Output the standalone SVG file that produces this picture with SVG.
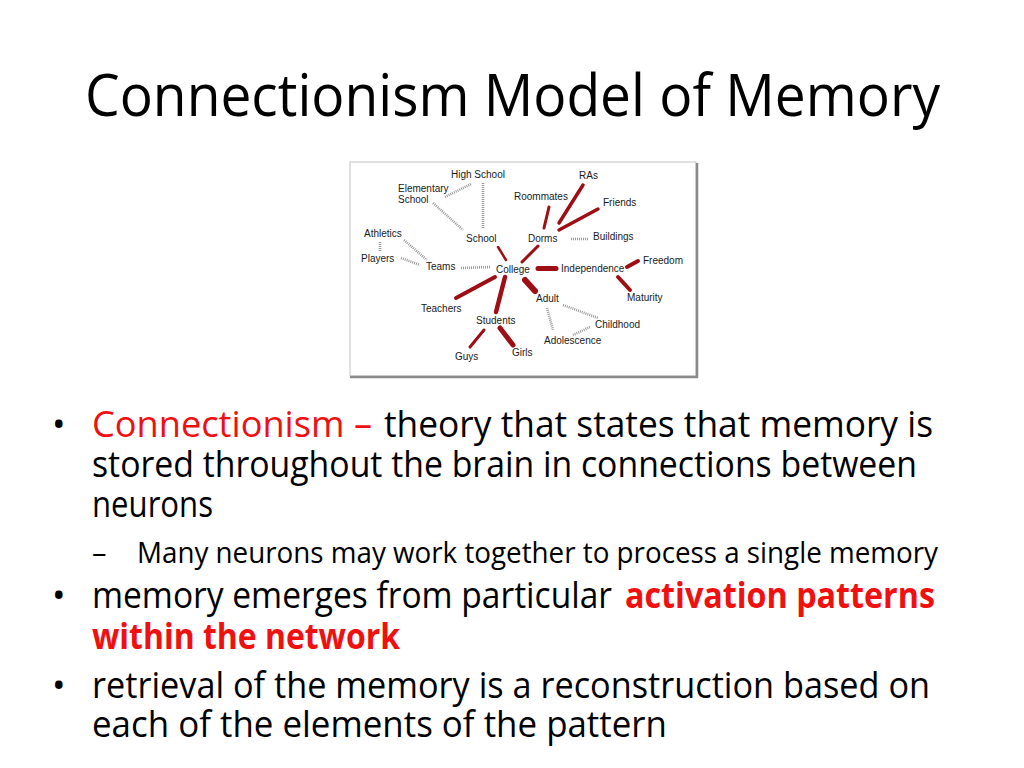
<svg xmlns="http://www.w3.org/2000/svg" width="1024" height="768" viewBox="0 0 1024 768">
<style>
.main{font-family:"Open Sans","DejaVu Sans",sans-serif;fill:#000;}
.red{fill:#f01010;}
.b{font-weight:bold;}
.lbl{font-family:"Liberation Sans",Arial,sans-serif;font-size:10px;fill:#1a1a1a;}
.rl{stroke:#9e0f14;stroke-linecap:round;fill:none;}
.gl{stroke:#9a9a9a;stroke-width:2.6;stroke-dasharray:1 1;fill:none;}
</style>
<rect width="1024" height="768" fill="#fff"/>
<text class="main" x="85" y="116" font-size="58" textLength="855" lengthAdjust="spacingAndGlyphs">Connectionism Model of Memory</text>

<g id="figure">
<rect x="350" y="162" width="346" height="214" fill="#fff" stroke="#c4c4c4" stroke-width="1"/>
<line x1="697" y1="163" x2="697" y2="378" stroke="#8a8a8a" stroke-width="2.5"/>
<line x1="350" y1="377" x2="698" y2="377" stroke="#8a8a8a" stroke-width="2.5"/>
</g>

<g id="connectors">
<line class="gl" x1="445" y1="197" x2="471" y2="184"/>
<line class="gl" x1="483" y1="183" x2="483" y2="228"/>
<line class="gl" x1="433" y1="203" x2="463" y2="230"/>
<line class="gl" x1="380" y1="242" x2="380" y2="252"/>
<line class="gl" x1="401" y1="258" x2="420" y2="265"/>
<line class="gl" x1="404" y1="240" x2="427" y2="260"/>
<line class="gl" x1="461" y1="268" x2="491" y2="267"/>
<line class="gl" x1="571" y1="239" x2="589" y2="239" stroke="#b4bcc8"/>
<line class="gl" x1="563" y1="305" x2="598" y2="318"/>
<line class="gl" x1="547" y1="308" x2="553" y2="330"/>
<line class="gl" x1="590" y1="327" x2="573" y2="335"/>
<line class="rl" x1="498" y1="247" x2="506" y2="260" stroke-width="2.5"/>
<line class="rl" x1="538" y1="246" x2="522" y2="262" stroke-width="3"/>
<line class="rl" x1="549" y1="207" x2="544" y2="228" stroke-width="3"/>
<line class="rl" x1="583" y1="185" x2="559" y2="223" stroke-width="3.5"/>
<line class="rl" x1="598" y1="209" x2="559" y2="230" stroke-width="3.5"/>
<line class="rl" x1="538" y1="268.5" x2="556" y2="268.5" stroke-width="5" stroke-linecap="butt"/>
<line class="rl" x1="627" y1="267" x2="638" y2="261" stroke-width="4"/>
<line class="rl" x1="618" y1="277" x2="630" y2="290" stroke-width="4"/>
<line class="rl" x1="525" y1="280" x2="535" y2="291" stroke-width="6"/>
<line class="rl" x1="495" y1="277" x2="456" y2="298" stroke-width="4"/>
<line class="rl" x1="505" y1="277" x2="496" y2="312" stroke-width="4.5"/>
<line class="rl" x1="484" y1="330" x2="470" y2="347" stroke-width="3"/>
<line class="rl" x1="500" y1="328" x2="513" y2="345" stroke-width="5"/>
</g>

<g id="n-highschool"><text class="lbl" x="451" y="178">High School</text></g>
<g id="n-elementary"><text class="lbl" x="398" y="192">Elementary</text><text class="lbl" x="398" y="203">School</text></g>
<g id="n-ras"><text class="lbl" x="579" y="179">RAs</text></g>
<g id="n-roommates"><text class="lbl" x="514" y="200">Roommates</text></g>
<g id="n-friends"><text class="lbl" x="603" y="206">Friends</text></g>
<g id="n-athletics"><text class="lbl" x="364" y="237">Athletics</text></g>
<g id="n-school"><text class="lbl" x="466" y="242">School</text></g>
<g id="n-dorms"><text class="lbl" x="528" y="242">Dorms</text></g>
<g id="n-buildings"><text class="lbl" x="593" y="240">Buildings</text></g>
<g id="n-players"><text class="lbl" x="361" y="262">Players</text></g>
<g id="n-teams"><text class="lbl" x="426" y="270">Teams</text></g>
<g id="n-college"><text class="lbl" x="496" y="273">College</text></g>
<g id="n-independence"><text class="lbl" x="561" y="272">Independence</text></g>
<g id="n-freedom"><text class="lbl" x="643" y="264">Freedom</text></g>
<g id="n-adult"><text class="lbl" x="536" y="302">Adult</text></g>
<g id="n-maturity"><text class="lbl" x="627" y="301">Maturity</text></g>
<g id="n-teachers"><text class="lbl" x="421" y="312">Teachers</text></g>
<g id="n-students"><text class="lbl" x="476" y="324">Students</text></g>
<g id="n-childhood"><text class="lbl" x="595" y="328">Childhood</text></g>
<g id="n-adolescence"><text class="lbl" x="544" y="344">Adolescence</text></g>
<g id="n-guys"><text class="lbl" x="455" y="360">Guys</text></g>
<g id="n-girls"><text class="lbl" x="512" y="356">Girls</text></g>

<g id="bullets" class="main" font-size="36">
<text x="52" y="437">•</text>
<text class="red" x="92" y="437" textLength="280" lengthAdjust="spacingAndGlyphs">Connectionism –</text>
<text x="384" y="437" textLength="549" lengthAdjust="spacingAndGlyphs">theory that states that memory is</text>
<text x="92" y="477" textLength="825" lengthAdjust="spacingAndGlyphs">stored throughout the brain in connections between</text>
<text x="92" y="517" textLength="121" lengthAdjust="spacingAndGlyphs">neurons</text>
<text x="92" y="563" font-size="29">–</text>
<text x="137" y="563" font-size="29" textLength="801" lengthAdjust="spacingAndGlyphs">Many neurons may work together to process a single memory</text>
<text x="52" y="608">•</text>
<text x="92" y="608" textLength="520" lengthAdjust="spacingAndGlyphs">memory emerges from particular</text>
<text class="red b" x="625" y="608" textLength="310" lengthAdjust="spacingAndGlyphs">activation patterns</text>
<text class="red b" x="92" y="649" textLength="308" lengthAdjust="spacingAndGlyphs">within the network</text>
<text x="52" y="698">•</text>
<text x="92" y="698" textLength="838" lengthAdjust="spacingAndGlyphs">retrieval of the memory is a reconstruction based on</text>
<text x="92" y="737" textLength="575" lengthAdjust="spacingAndGlyphs">each of the elements of the pattern</text>
</g>
</svg>
